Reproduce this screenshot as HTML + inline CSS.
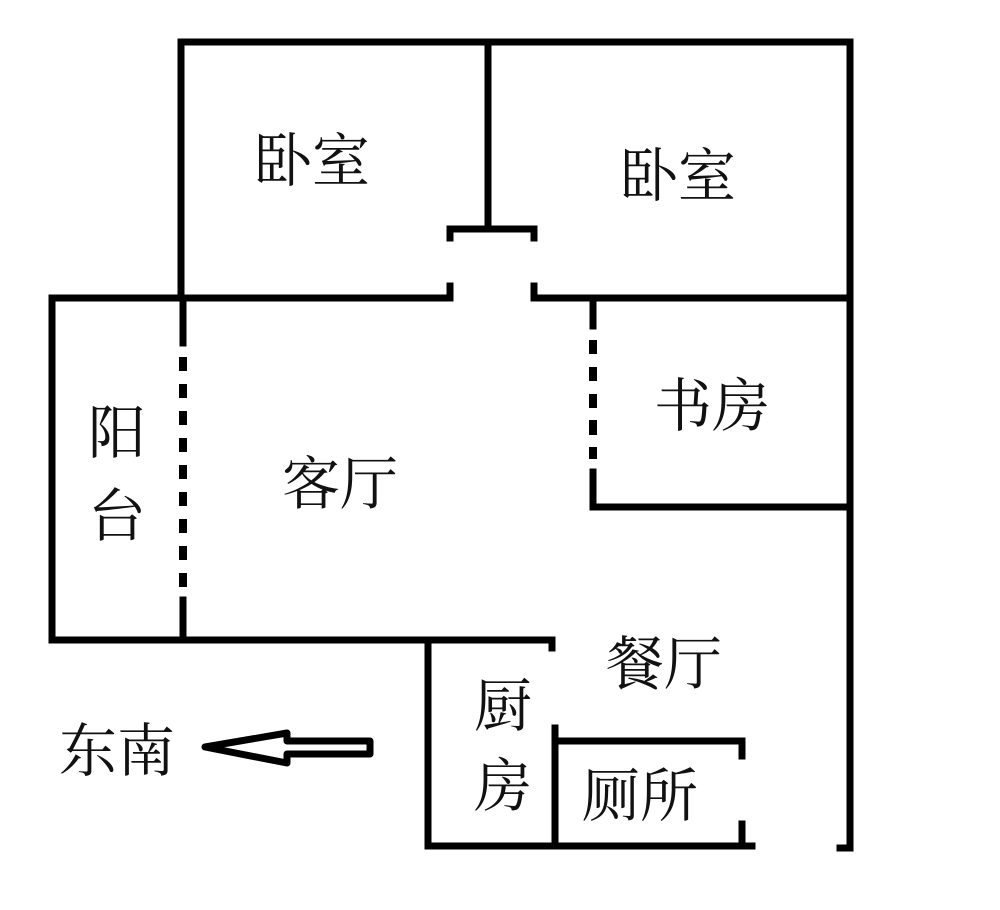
<!DOCTYPE html>
<html><head><meta charset="utf-8"><style>
html,body{margin:0;padding:0;background:#fff;}
svg{display:block}
text{font-family:"Liberation Serif","Noto Serif CJK SC",serif;fill:#111;}
</style></head><body>
<svg width="1000" height="910" viewBox="0 0 1000 910" xmlns="http://www.w3.org/2000/svg">
<g stroke="#000" stroke-width="7" fill="none" stroke-linecap="square">
<path d="M181 42 H850 V848"/>
<path d="M850 848 H840"/>
<path d="M181 42 V298"/>
<path d="M488 42 V229"/>
<path d="M450 238 V229 H534 V238"/>
<path d="M181 298 H450 V286"/>
<path d="M534 286 V298 H850"/>
<path d="M181 298 H52 V640 H552 V648"/>
<path d="M183 298 V343"/>
<path d="M183 600 V640"/>
<path d="M593 298 V326"/>
<path d="M593 472 V507 H850"/>
<path d="M428 640 V846 H752"/>
<path d="M555 728 V846"/>
<path d="M555 741 H742 V756"/>
<path d="M742 824 V846"/>
</g>
<g fill="#000">
<rect x="179" y="357" width="8" height="14"/>
<rect x="179" y="384" width="8" height="14"/>
<rect x="179" y="411" width="8" height="14"/>
<rect x="179" y="438" width="8" height="14"/>
<rect x="179" y="465" width="8" height="14"/>
<rect x="179" y="492" width="8" height="14"/>
<rect x="179" y="519" width="8" height="14"/>
<rect x="179" y="546" width="8" height="14"/>
<rect x="179" y="573" width="8" height="14"/>
<rect x="589" y="340" width="8" height="14"/>
<rect x="589" y="367" width="8" height="14"/>
<rect x="589" y="394" width="8" height="14"/>
<rect x="589" y="420" width="8" height="15"/>
<rect x="589" y="447" width="8" height="12"/>
</g>
<path d="M205 747 L287 733 V741 H370 V754 H287 V763 Z" fill="none" stroke="#000" stroke-width="7" stroke-linejoin="round"/>
<g font-size="58">
<text x="254" y="181">卧室</text>
<text x="620" y="196">卧室</text>
<text x="654" y="426">书房</text>
<text x="282" y="504">客厅</text>
<text x="88" y="453">阳</text>
<text x="88" y="536">台</text>
<text x="606" y="684">餐厅</text>
<text x="474" y="726">厨</text>
<text x="474" y="806">房</text>
<text x="582" y="816">厕所</text>
<text x="59" y="771">东南</text>
</g>
</svg>
</body></html>
